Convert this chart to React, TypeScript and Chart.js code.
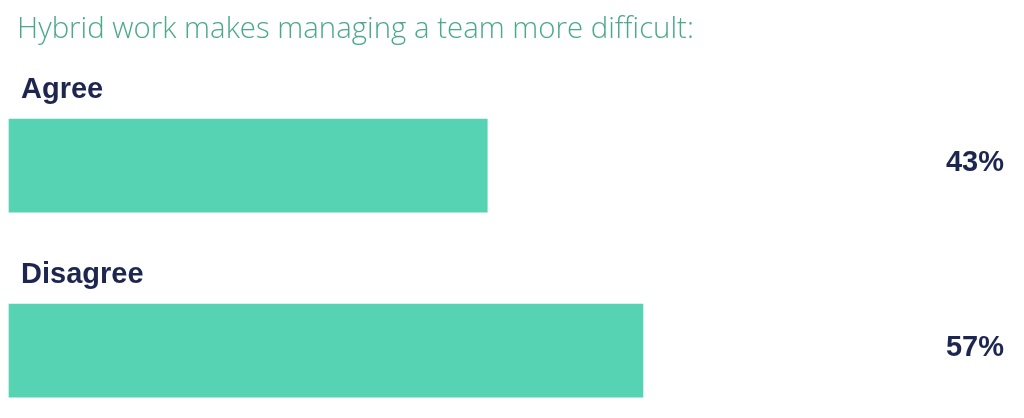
import { useEffect, useRef } from 'react';
import { Chart, registerables } from 'chart.js';

Chart.register(...registerables);

// chart data
const chartTitle = 'Hybrid work makes managing a team more difficult:';
const categories = ['Agree', 'Disagree'];
const values = [43, 57];
const valueLabels = ['43%', '57%'];
const xMax = 90;

const TITLE_COLOR = '#4aaa88';
const TEXT_COLOR = '#1d2650';
const BAR_COLOR = '#56d3b3';

// draws the title, the category names above bars and the percentages at the right
const labelPlugin = {
  id: 'surveyLabels',
  afterDatasetsDraw(chart: any) {
    const { ctx, chartArea } = chart;
    const meta = chart.getDatasetMeta(0);
    ctx.save();

    ctx.font = '300 29.4px "Open Sans", sans-serif';
    ctx.fillStyle = TITLE_COLOR;
    ctx.textAlign = 'left';
    ctx.textBaseline = 'alphabetic';
    ctx.fillText(chartTitle, 17, 38);

    meta.data.forEach((bar: any, i: number) => {
      const top = bar.y - bar.height / 2;
      ctx.font = 'bold 29px "Liberation Sans", Arial, sans-serif';
      ctx.fillStyle = TEXT_COLOR;
      ctx.textAlign = 'left';
      ctx.textBaseline = 'alphabetic';
      ctx.fillText(categories[i], 21, top - 21);

      ctx.textAlign = 'right';
      ctx.textBaseline = 'middle';
      ctx.fillText(valueLabels[i], chartArea.right - 6, bar.y - 3);
    });

    ctx.restore();
  },
};

export default function App() {
  const chartRef = useRef<HTMLCanvasElement>(null);
  const chartInstance = useRef<Chart | null>(null);

  useEffect(() => {
    if (!chartRef.current) return;
    if (chartInstance.current) {
      chartInstance.current.destroy();
    }
    const ctx = chartRef.current.getContext('2d');
    if (!ctx) return;

    chartInstance.current = new Chart(ctx, {
      type: 'bar',
      data: {
        labels: categories,
        datasets: [
          {
            data: values,
            backgroundColor: BAR_COLOR,
            borderWidth: 0,
            barThickness: 93,
            clip: false as any,
          },
        ],
      },
      options: {
        indexAxis: 'y',
        responsive: false,
        animation: false,
        devicePixelRatio: 1,
        layout: {
          padding: { top: 165.7, bottom: 67.3, left: 9, right: 14 },
        },
        plugins: {
          legend: { display: false },
          tooltip: { enabled: false },
        },
        scales: {
          x: {
            display: false,
            min: 0,
            max: xMax,
          },
          y: {
            type: 'category',
            display: false,
            offset: false,
          },
        },
      },
      plugins: [labelPlugin],
    });

    return () => {
      if (chartInstance.current) {
        chartInstance.current.destroy();
        chartInstance.current = null;
      }
    };
  }, []);

  return (
    <div style={{ position: 'absolute', left: 0, top: 0, width: 1024, height: 418, background: '#fff' }}>
      <canvas ref={chartRef} width={1024} height={418} style={{ display: 'block' }}></canvas>
    </div>
  );
}
